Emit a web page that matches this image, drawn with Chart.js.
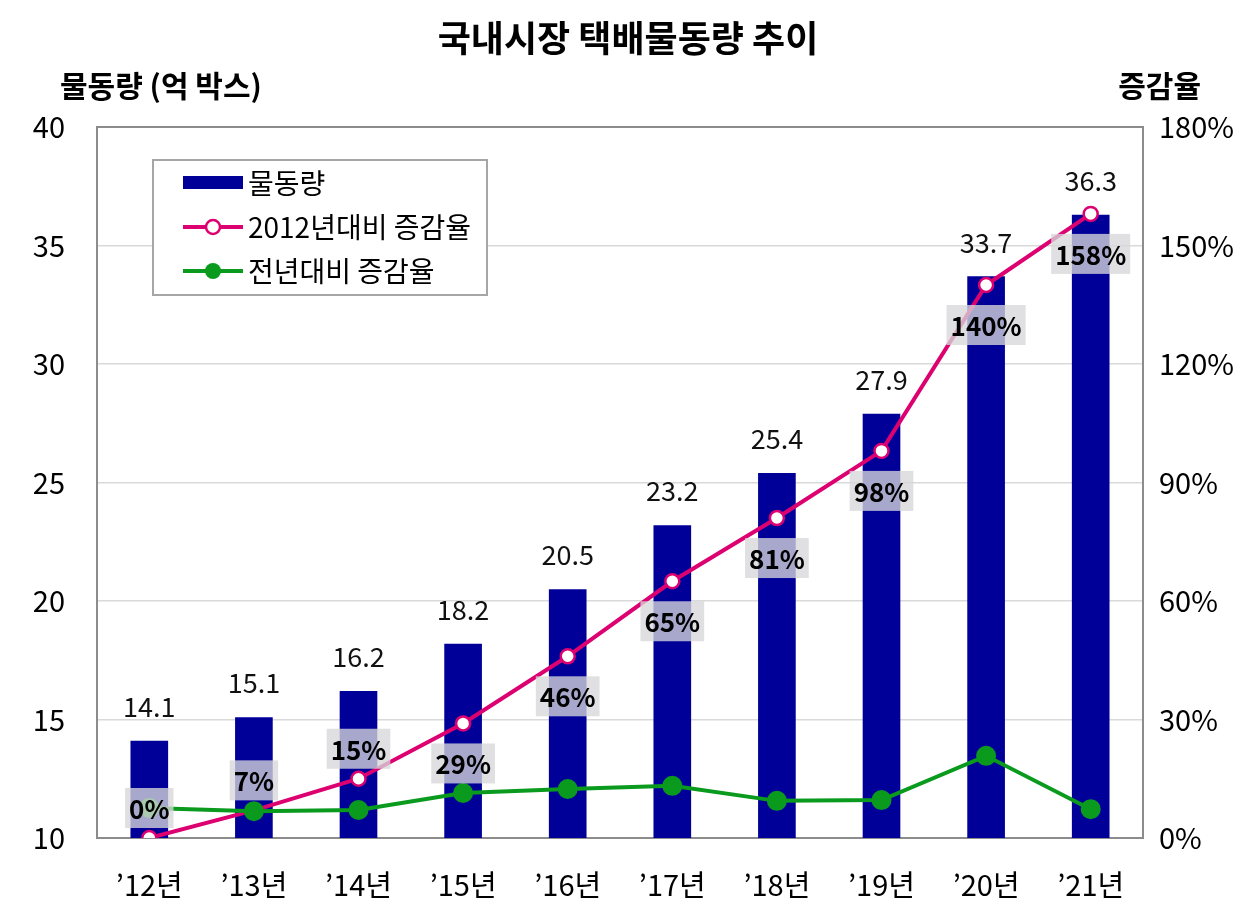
<!DOCTYPE html>
<html>
<head>
<meta charset="utf-8">
<script src="https://cdn.jsdelivr.net/npm/chart.js@4.4.0/dist/chart.umd.min.js"></script>
<style>
  html, body { margin: 0; background: #fff; }
</style>
</head>
<body>
<canvas id="chart" width="1247" height="910"></canvas>
<script>
// 데이터
const years = ['’12년', '’13년', '’14년', '’15년', '’16년', '’17년', '’18년', '’19년', '’20년', '’21년'];
const volume = [14.1, 15.1, 16.2, 18.2, 20.5, 23.2, 25.4, 27.9, 33.7, 36.3];
const vs2012 = [0, 7, 15, 29, 46, 65, 81, 98, 140, 158];
const yoy = [7.6, 6.8, 7.1, 11.4, 12.4, 13.2, 9.4, 9.6, 20.8, 7.3];
const leftTicks = [10, 15, 20, 25, 30, 35, 40];
const rightTicks = [0, 30, 60, 90, 120, 150, 180];

const FONT = "'Noto Sans CJK KR', 'Noto Sans', sans-serif";
const BAR = '#000099';
const PINK = '#dc0070';
const GREEN = '#0a9a1e';

// 제목, 축 제목, 범례, 라벨 그리기
const decor = {
    id: 'decor',
    beforeDatasetsDraw(chart) {
        const { ctx, chartArea: a } = chart;
        ctx.save();
        ctx.strokeStyle = '#8c8c8c';
        ctx.lineWidth = 2;
        ctx.strokeRect(a.left, a.top, a.right - a.left, a.bottom - a.top);
        ctx.restore();
    },
    afterDatasetsDraw(chart) {
        const { ctx } = chart;
        ctx.save();
        ctx.textAlign = 'center';
        ctx.textBaseline = 'middle';

        // 막대 위 값
        ctx.font = `27px ${FONT}`;
        ctx.fillStyle = '#111';
        chart.getDatasetMeta(0).data.forEach((el, i) => {
            ctx.fillText(volume[i].toFixed(1), el.x, el.y - 34);
        });

        // 2012년대비 증감율 라벨
        ctx.font = `bold 26px ${FONT}`;
        chart.getDatasetMeta(1).data.forEach((el, i) => {
            const txt = vs2012[i] + '%';
            const y = el.y + (i < 3 ? -30 : 40);
            const w = ctx.measureText(txt).width + 8;
            ctx.fillStyle = 'rgba(215,215,218,0.78)';
            ctx.fillRect(el.x - w / 2, y - 20, w, 40);
            ctx.fillStyle = '#000';
            ctx.fillText(txt, el.x, y + 1);
        });
        ctx.restore();
    },
    afterDraw(chart) {
        const { ctx } = chart;
        ctx.save();
        ctx.fillStyle = '#000';
        ctx.textBaseline = 'middle';

        ctx.textAlign = 'center';
        ctx.font = `bold 36px ${FONT}`;
        ctx.fillText('국내시장 택배물동량 추이', 628, 38);

        ctx.font = `bold 30px ${FONT}`;
        ctx.textAlign = 'left';
        ctx.fillText('물동량 (억 박스)', 60, 86);
        ctx.textAlign = 'right';
        ctx.fillText('증감율', 1201, 86);

        // 범례
        ctx.fillStyle = '#fff';
        ctx.fillRect(153, 160, 334, 135);
        ctx.strokeStyle = '#a6a6a6';
        ctx.lineWidth = 2;
        ctx.strokeRect(153, 160, 334, 135);

        ctx.fillStyle = BAR;
        ctx.fillRect(183, 176, 60, 13);

        ctx.lineWidth = 4;
        ctx.strokeStyle = PINK;
        ctx.beginPath(); ctx.moveTo(183, 227); ctx.lineTo(243, 227); ctx.stroke();
        ctx.fillStyle = '#fff';
        ctx.lineWidth = 2.5;
        ctx.beginPath(); ctx.arc(213, 227, 7, 0, Math.PI * 2); ctx.fill(); ctx.stroke();

        ctx.lineWidth = 4;
        ctx.strokeStyle = GREEN;
        ctx.beginPath(); ctx.moveTo(183, 271); ctx.lineTo(243, 271); ctx.stroke();
        ctx.fillStyle = GREEN;
        ctx.beginPath(); ctx.arc(213, 271, 8, 0, Math.PI * 2); ctx.fill();

        ctx.fillStyle = '#000';
        ctx.textAlign = 'left';
        ctx.font = `28px ${FONT}`;
        ctx.fillText('물동량', 248, 183);
        ctx.fillText('2012년대비 증감율', 248, 227);
        ctx.fillText('전년대비 증감율', 248, 271);
        ctx.restore();
    }
};

const chart = new Chart(document.getElementById('chart').getContext('2d'), {
    data: {
        labels: years,
        datasets: [
            {
                type: 'bar',
                label: '물동량',
                data: volume,
                backgroundColor: BAR,
                barPercentage: 0.36,
                categoryPercentage: 1,
                yAxisID: 'y',
                order: 3
            },
            {
                type: 'line',
                label: '2012년대비 증감율',
                data: vs2012,
                borderColor: PINK,
                borderWidth: 4,
                pointRadius: 7,
                pointBorderWidth: 2.5,
                pointBackgroundColor: '#fff',
                pointBorderColor: PINK,
                yAxisID: 'y1',
                order: 2
            },
            {
                type: 'line',
                label: '전년대비 증감율',
                data: yoy,
                borderColor: GREEN,
                borderWidth: 4,
                pointRadius: 8,
                pointBackgroundColor: GREEN,
                pointBorderColor: GREEN,
                yAxisID: 'y1',
                order: 1
            }
        ]
    },
    options: {
        responsive: false,
        animation: false,
        layout: { padding: { top: 127, left: 0, right: 0, bottom: 0 } },
        plugins: {
            legend: { display: false },
            tooltip: { enabled: false }
        },
        scales: {
            x: {
                grid: { display: false },
                border: { color: '#8c8c8c', width: 2 },
                ticks: { color: '#000', font: { family: FONT, size: 29 }, padding: 22 },
                afterFit: s => { s.height = 72; }
            },
            y: {
                position: 'left',
                min: leftTicks[0],
                max: leftTicks[leftTicks.length - 1],
                afterBuildTicks: s => { s.ticks = leftTicks.map(v => ({ value: v })); },
                grid: { color: '#d9d9d9', lineWidth: 1.5, drawTicks: false },
                border: { color: '#8c8c8c', width: 2 },
                ticks: { color: '#000', font: { family: FONT, size: 29 }, padding: 32 },
                afterFit: s => { s.width = 97; }
            },
            y1: {
                position: 'right',
                min: rightTicks[0],
                max: rightTicks[rightTicks.length - 1],
                afterBuildTicks: s => { s.ticks = rightTicks.map(v => ({ value: v })); },
                grid: { drawOnChartArea: false, drawTicks: false },
                border: { color: '#8c8c8c', width: 2 },
                ticks: {
                    color: '#000',
                    font: { family: FONT, size: 29 },
                    padding: 16,
                    callback: v => v + '%'
                },
                afterFit: s => { s.width = 104; }
            }
        }
    },
    plugins: [decor]
});
</script>
</body>
</html>
